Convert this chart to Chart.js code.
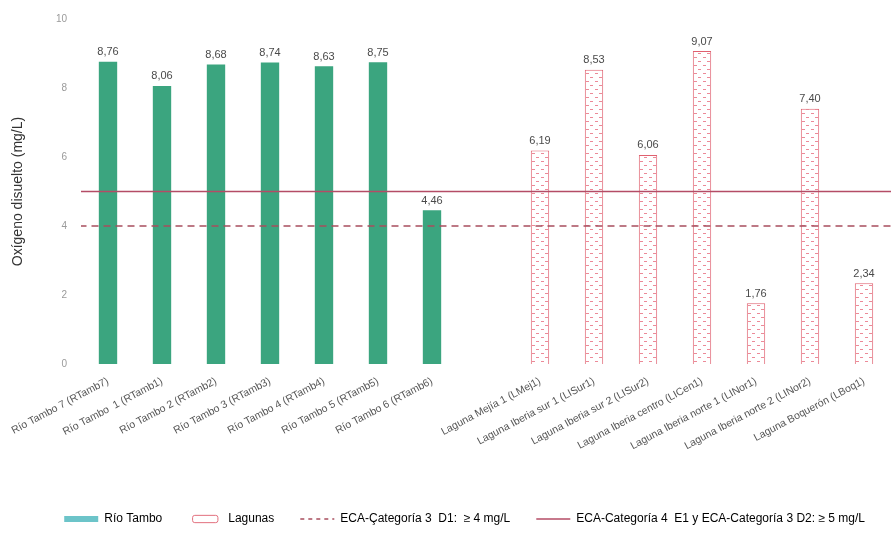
<!DOCTYPE html>
<html>
<head>
<meta charset="utf-8">
<script src="https://cdn.jsdelivr.net/npm/chart.js@4.4.1/dist/chart.umd.min.js"></script>
<style>
    html, body { margin: 0; padding: 0; background: #fff; }
    #wrap { width: 896px; height: 535px; }
</style>
</head>
<body>
<div id="wrap"><canvas id="myChart"></canvas></div>
<script>
// categorias (una vacia entre rio y lagunas)
const stations = [
    "Río Tambo 7 (RTamb7)", "Río Tambo  1 (RTamb1)", "Río Tambo 2 (RTamb2)", "Río Tambo 3 (RTamb3)",
    "Río Tambo 4 (RTamb4)", "Río Tambo 5 (RTamb5)", "Río Tambo 6 (RTamb6)", "",
    "Laguna Mejía 1 (LMej1)", "Laguna Iberia sur 1 (LISur1)", "Laguna Iberia sur 2 (LISur2)",
    "Laguna Iberia centro (LICen1)", "Laguna Iberia norte 1 (LINor1)", "Laguna Iberia norte 2 (LINor2)",
    "Laguna Boquerón (LBoq1)"
];
const rioTambo = [8.76, 8.06, 8.68, 8.74, 8.63, 8.75, 4.46, null, null, null, null, null, null, null, null];
const lagunas = [null, null, null, null, null, null, null, null, 6.19, 8.53, 6.06, 9.07, 1.76, 7.40, 2.34];
const yTicks = [0, 2, 4, 6, 8, 10];
const eca3D1 = 4;
const eca4E1 = 5;

const sans = "'Liberation Sans', Arial, sans-serif";

function hatch() {
    const c = document.createElement("canvas");
    c.width = 9;
    c.height = 8;
    const g = c.getContext("2d");
    g.fillStyle = "#ffffff";
    g.fillRect(0, 0, 9, 8);
    g.fillStyle = "#ec8a98";
    g.fillRect(1, 1, 3, 1);
    g.fillRect(5, 5, 3, 1);
    return g.createPattern(c, "repeat");
}

const valueLabels = {
    id: "valueLabels",
    afterDatasetsDraw(chart) {
        const ctx = chart.ctx;
        ctx.save();
        ctx.font = "11px " + sans;
        ctx.fillStyle = "#4a4a4a";
        ctx.textAlign = "center";
        ctx.textBaseline = "bottom";
        chart.data.datasets.forEach((ds, i) => {
            if (ds.type !== "bar") return;
            chart.getDatasetMeta(i).data.forEach((bar, j) => {
                const v = ds.data[j];
                if (v == null) return;
                ctx.fillText(v.toFixed(2).replace(".", ","), bar.x, bar.y - 4);
            });
        });
        ctx.restore();
    }
};

const lineSpan = [-0.75, stations.length - 0.5];

new Chart(document.getElementById("myChart"), {
    data: {
        labels: stations,
        datasets: [
            {
                type: "line",
                label: "ECA-Categoría 4  E1 y ECA-Categoría 3 D2: ≥ 5 mg/L",
                data: lineSpan.map(x => ({ x: x, y: eca4E1 })),
                xAxisID: "xl",
                borderColor: "#b44c66",
                borderWidth: 1.6,
                pointRadius: 0,
                order: 0
            },
            {
                type: "line",
                label: "ECA-Categoría 3  D1:  ≥ 4 mg/L",
                data: lineSpan.map(x => ({ x: x, y: eca3D1 })),
                xAxisID: "xl",
                borderColor: "#a84e5e",
                borderWidth: 1.6,
                borderDash: [7, 5],
                pointRadius: 0,
                order: 0
            },
            {
                type: "bar",
                label: "Río Tambo",
                data: rioTambo,
                backgroundColor: "#3ba57f",
                grouped: false,
                barPercentage: 0.34,
                categoryPercentage: 1,
                order: 1
            },
            {
                type: "bar",
                label: "Lagunas",
                data: lagunas,
                backgroundColor: hatch(),
                borderColor: "#e0606f",
                borderWidth: 1,
                grouped: false,
                barPercentage: 0.34,
                categoryPercentage: 1,
                order: 1
            }
        ]
    },
    options: {
        responsive: true,
        maintainAspectRatio: false,
        animation: false,
        layout: { padding: { top: 19, right: 5, left: 0, bottom: 0 } },
        plugins: {
            tooltip: { enabled: false },
            legend: {
                position: "bottom",
                align: "end",
                labels: {
                    usePointStyle: true,
                    pointStyleWidth: 34,
                    boxHeight: 6,
                    padding: 26,
                    color: "#222",
                    font: { family: sans, size: 12 },
                    generateLabels() {
                        return [
                            { text: "Río Tambo", pointStyle: "rect", fillStyle: "#6cc4c9", strokeStyle: "#6cc4c9", lineWidth: 0 },
                            { text: "Lagunas", pointStyle: "rectRounded", fillStyle: "#ffffff", strokeStyle: "#e2707e", lineWidth: 1 },
                            { text: "ECA-Çategoría 3  D1:  ≥ 4 mg/L", pointStyle: "line", strokeStyle: "#a84e5e", lineWidth: 1.5, lineDash: [4, 4] },
                            { text: "ECA-Categoría 4  E1 y ECA-Categoría 3 D2: ≥ 5 mg/L", pointStyle: "line", strokeStyle: "#b44c66", lineWidth: 1.5 }
                        ];
                    }
                }
            }
        },
        scales: {
            x: {
                grid: { display: false },
                border: { display: false },
                ticks: {
                    minRotation: 28,
                    maxRotation: 28,
                    autoSkip: false,
                    color: "#555",
                    font: { family: sans, size: 10.5 }
                },
                afterFit(s) { s.height = 123; }
            },
            xl: {
                type: "linear",
                display: false,
                min: -0.5,
                max: stations.length - 0.5
            },
            y: {
                min: 0,
                max: 10,
                afterBuildTicks(s) { s.ticks = yTicks.map(v => ({ value: v })); },
                grid: { display: false },
                border: { display: false },
                ticks: {
                    color: "#9a9a9a",
                    padding: 6,
                    font: { family: sans, size: 10 }
                },
                title: {
                    display: true,
                    text: "Oxígeno disuelto (mg/L)",
                    color: "#333",
                    padding: { top: 10, bottom: 0 },
                    font: { family: sans, size: 14 }
                },
                afterFit(s) { s.width = 81; }
            }
        }
    },
    plugins: [valueLabels]
});
</script>
</body>
</html>
